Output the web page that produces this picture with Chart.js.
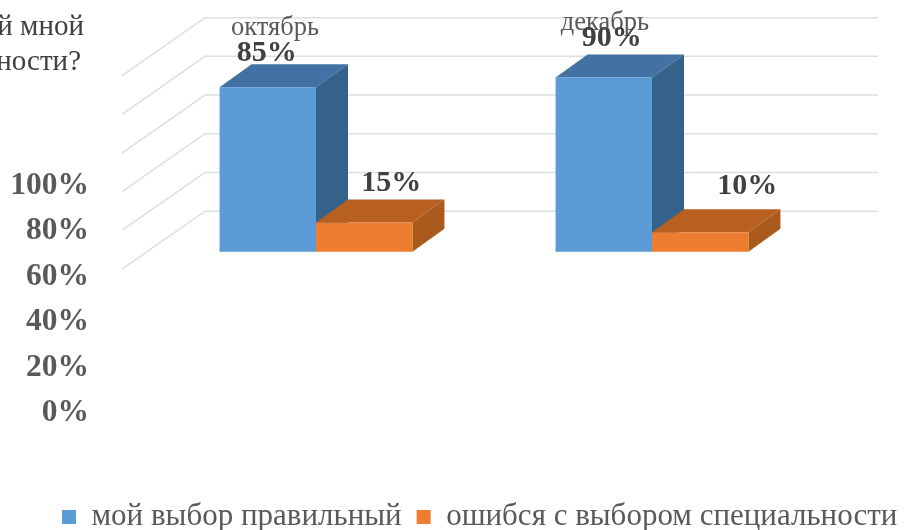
<!DOCTYPE html>
<html>
<head>
<meta charset="utf-8">
<title>chart</title>
<script src="https://cdn.jsdelivr.net/npm/chart.js@4/dist/chart.umd.min.js"></script>
<style>
  html, body { margin: 0; padding: 0; background: #fff; }
  #box { width: 911px; height: 530px; }
</style>
</head>
<body>
<div id="box"><canvas id="chart"></canvas></div>
<script>
const categories = ['октябрь', 'декабрь'];
const seriesNames = ['мой выбор правильный', 'ошибся с выбором специальности'];
const rightChoice = [85, 90];
const wrongChoice = [15, 10];
const tickValues = [0, 20, 40, 60, 80, 100];
const titleLines = ['й мной', 'ности?'];

const serif = "'Liberation Serif', serif";
const depthX = 32;
const depthY = -23;

// face colours for the fake 3d look
const topColors = ['#4272a3', '#b8601f'];
const sideColors = ['#35628a', '#a95a1c'];

// the labels sit where the original left them, not centred on the bars
const labelShift = [
  [{ x: -1, y: -34 }, { x: 8, y: -39 }],
  [{ x: 27, y: -39 }, { x: 47, y: -46 }],
];
const categoryPos = [{ x: -41, y: 28 }, { x: -47, y: 23 }];

function face(ctx, points, color) {
  ctx.fillStyle = color;
  ctx.beginPath();
  points.forEach((p, i) => (i ? ctx.lineTo(p[0], p[1]) : ctx.moveTo(p[0], p[1])));
  ctx.closePath();
  ctx.fill();
}

const bars3d = {
  id: 'bars3d',
  afterLayout(chart) {
    // legend is not centred in the reference, right is pushed out so it stays on one row
    chart.legend.left = 47;
    chart.legend.right = 930;
    chart.legend.top += 12.5;
    chart.legend.bottom += 12.5;
  },
  beforeDatasetsDraw(chart) {
    const ctx = chart.ctx;
    const y = chart.scales.y;

    // back wall and left wall grid lines
    ctx.save();
    ctx.strokeStyle = '#dedede';
    ctx.lineWidth = 1.5;
    tickValues.forEach((v) => {
      const py = y.getPixelForValue(v) - 40.5;
      ctx.beginPath();
      ctx.moveTo(122, py + 58);
      ctx.lineTo(205, py);
      ctx.lineTo(878, py);
      ctx.stroke();
    });
    ctx.restore();

    // top and side faces, blue first so the orange top overlaps it
    chart.data.datasets.forEach((ds, i) => {
      chart.getDatasetMeta(i).data.forEach((bar) => {
        const l = bar.x - bar.width / 2;
        const r = bar.x + bar.width / 2;
        const t = bar.y;
        const b = bar.base;
        face(ctx, [[l, t], [l + depthX, t + depthY], [r + depthX, t + depthY], [r, t]], topColors[i]);
        face(ctx, [[r, t], [r + depthX, t + depthY], [r + depthX, b + depthY], [r, b]], sideColors[i]);
      });
    });
  },
  afterDatasetsDraw(chart) {
    const ctx = chart.ctx;
    ctx.save();
    ctx.textAlign = 'center';
    ctx.textBaseline = 'middle';

    // month names
    ctx.font = '26.5px ' + serif;
    ctx.fillStyle = '#595959';
    categories.forEach((c, j) => {
      ctx.fillText(c, chart.scales.x.getPixelForValue(j) + categoryPos[j].x, categoryPos[j].y);
    });

    // value labels
    ctx.font = 'bold 30px ' + serif;
    ctx.fillStyle = '#404040';
    chart.data.datasets.forEach((ds, i) => {
      chart.getDatasetMeta(i).data.forEach((bar, j) => {
        ctx.fillText(ds.data[j] + '%', bar.x + labelShift[i][j].x, bar.y + labelShift[i][j].y);
      });
    });

    // what is left of the cut off title
    ctx.font = '29px ' + serif;
    ctx.textAlign = 'right';
    ctx.fillStyle = '#404040';
    ctx.fillText(titleLines[0], 84, 27);
    ctx.fillText(titleLines[1], 81, 62);
    ctx.restore();
  },
};

new Chart(document.getElementById('chart'), {
  type: 'bar',
  data: {
    labels: categories,
    datasets: [
      { label: seriesNames[0], data: rightChoice, backgroundColor: '#5b9bd5', yAxisID: 'y' },
      { label: seriesNames[1], data: wrongChoice, backgroundColor: '#ed7d31', yAxisID: 'y' },
    ],
  },
  options: {
    responsive: true,
    maintainAspectRatio: false,
    animation: false,
    layout: { padding: { top: 15, left: 0, right: 0, bottom: 0 } },
    datasets: { bar: { categoryPercentage: 0.574, barPercentage: 1 } },
    scales: {
      x: {
        grid: { display: false },
        border: { display: false },
        ticks: { display: false },
        afterFit: (s) => { s.height = 61; },
      },
      // scale the bars use: 0 at y=251
      y: {
        position: 'right',
        min: -83.4,
        max: 122.3,
        grid: { display: false },
        border: { display: false },
        ticks: { display: false },
        afterFit: (s) => { s.width = 91; },
      },
      // tick labels stand on their own spacing, lower than the bars
      yTicks: {
        position: 'left',
        min: 0,
        max: 174.9,
        grid: { display: false, drawTicks: false },
        border: { display: false },
        afterBuildTicks: (s) => { s.ticks = tickValues.map((v) => ({ value: v })); },
        afterFit: (s) => {
          s.width = 148;
          s.paddingTop = 0;
          s.paddingBottom = 0;
        },
        ticks: {
          padding: 59,
          autoSkip: false,
          color: '#595959',
          font: { family: serif, size: 31.5, weight: 'bold' },
          callback: (v) => v + '%',
        },
      },
    },
    plugins: {
      tooltip: { enabled: false },
      legend: {
        position: 'bottom',
        align: 'start',
        labels: {
          boxWidth: 14,
          boxHeight: 14,
          padding: 15,
          color: '#595959',
          font: { family: serif, size: 31, lineHeight: 1 },
        },
      },
    },
  },
  plugins: [bars3d],
});
</script>
</body>
</html>
